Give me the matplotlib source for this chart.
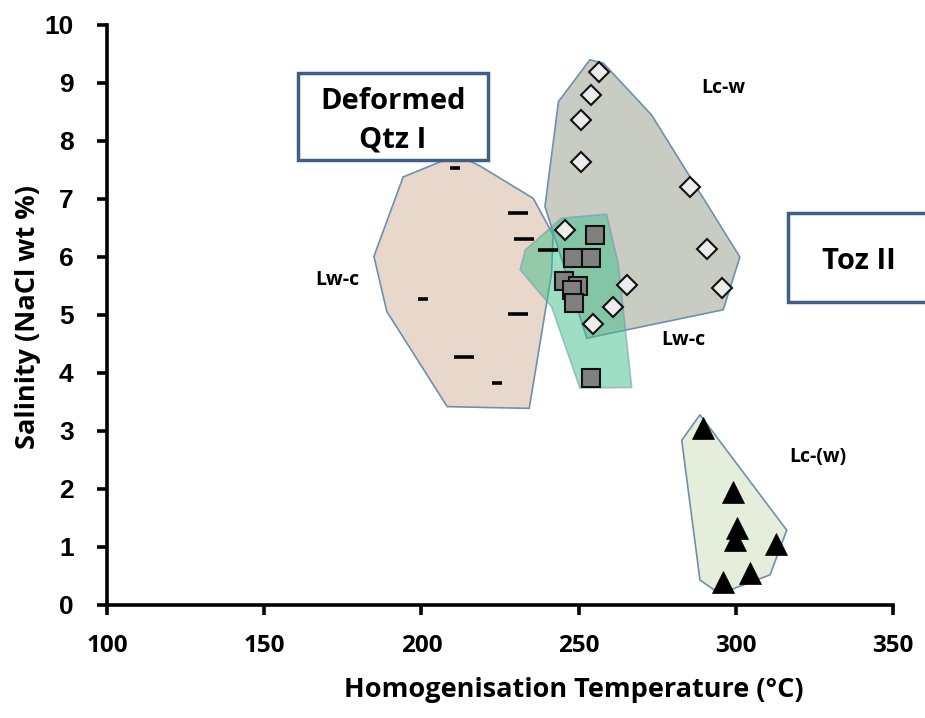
import matplotlib
matplotlib.use("Agg")
import matplotlib.pyplot as plt
from matplotlib.patches import Polygon, Rectangle

# ---- data ----
lcw_T = [256.6, 253.9, 250.7, 250.7, 285.4, 290.8, 295.5, 245.7, 265.5, 260.8, 254.5]
lcw_S = [9.19, 8.79, 8.36, 7.64, 7.20, 6.13, 5.46, 6.47, 5.52, 5.14, 4.84]

lwc_sq_T = [255.2, 248.3, 254.1, 245.4, 249.9, 247.8, 248.6, 253.9]
lwc_sq_S = [6.38, 5.99, 5.99, 5.59, 5.50, 5.43, 5.20, 3.91]

dash_T = [210.7, 230.6, 232.7, 240.2, 200.4, 230.6, 213.5, 224.0]
dash_S = [7.53, 6.75, 6.31, 6.12, 5.27, 5.01, 4.28, 3.82]
dash_long = [False, True, True, True, False, True, True, False]

tri_T = [289.7, 299.2, 300.5, 299.7, 312.8, 304.5, 295.8]
tri_S = [3.05, 1.95, 1.32, 1.12, 1.06, 0.55, 0.40]

pink_poly = [(211.4, 7.76), (218.6, 7.57), (235.6, 7.01), (241.9, 6.38), (241.4, 5.72),
             (234.3, 3.39), (208.2, 3.42), (189.0, 5.06), (184.9, 6.01), (194.2, 7.38)]
grey_poly = [(253.6, 9.40), (257.9, 9.34), (273.2, 8.45), (301.3, 6.00), (296.0, 5.09),
             (252.6, 4.60), (239.3, 6.87), (243.6, 8.68)]
green_poly = [(244.6, 6.67), (258.9, 6.74), (262.6, 5.89), (266.9, 3.75), (250.4, 3.74),
              (241.4, 5.14), (231.4, 5.78), (233.0, 6.12)]
tri_poly = [(288.6, 3.28), (282.8, 2.84), (288.6, 0.43), (293.9, 0.23), (298.2, 0.26),
            (310.9, 0.52), (316.2, 1.29)]

labels = [("Lc-w", 296, 8.91), ("Lw-c", 173.2, 5.6), ("Lw-c", 283.2, 4.57), ("Lc-(w)", 326.1, 2.55)]

xticks = [100, 150, 200, 250, 300, 350]
yticks = list(range(0, 11))

FONT = "Open Sans"

# ---- figure ----
fig = plt.figure(figsize=(9.25, 7.18), dpi=100)
ax = fig.add_axes([107/925, 113/718, (893-107)/925, (605-25)/718])
ax.set_xlim(100, 350)
ax.set_ylim(0, 10)

edge = "#6f8fb0"
ax.add_patch(Polygon(pink_poly, closed=True, facecolor="#e8d8cb", edgecolor=edge, lw=1.2, zorder=1))
ax.add_patch(Polygon(grey_poly, closed=True, facecolor="#c8ccc3", edgecolor=edge, lw=1.2, zorder=2))
ax.add_patch(Polygon(green_poly, closed=True, facecolor="#3fbf8a", alpha=0.5, edgecolor=edge, lw=1.2, zorder=3))
ax.add_patch(Polygon(tri_poly, closed=True, facecolor="#e4eedb", edgecolor=edge, lw=1.2, zorder=1))

for t, s, lg in zip(dash_T, dash_S, dash_long):
    ax.plot([t], [s], marker="_", color="black", markersize=14 if lg else 7, mew=2.6, ls="none", zorder=5)

ax.plot(lwc_sq_T, lwc_sq_S, marker="s", ls="none", markersize=13.5, markerfacecolor="#808080",
        markeredgecolor="#111111", mew=1.5, zorder=6)
ax.plot(lcw_T, lcw_S, marker="D", ls="none", markersize=10, markerfacecolor="#ececec",
        markeredgecolor="#111111", mew=1.5, zorder=7)
ax.plot(tri_T, tri_S, marker="^", ls="none", markersize=16, markerfacecolor="black",
        markeredgecolor="black", mew=0.5, zorder=7)

for txt, x, y in labels:
    ax.text(x, y, txt, fontfamily=FONT, fontweight="bold", fontsize=14, ha="center", va="center", zorder=8)

# spines / ticks
for side in ("top", "right"):
    ax.spines[side].set_visible(False)
for side in ("left", "bottom"):
    ax.spines[side].set_linewidth(2.6)
ax.set_xticks(xticks, labels=[str(v) for v in xticks], fontfamily=FONT, fontweight="bold", fontsize=17.5)
ax.set_yticks(yticks, labels=[str(v) for v in yticks], fontfamily="Liberation Sans", fontweight="bold", fontsize=19)
ax.tick_params(axis="both", direction="out", length=7, width=2.6)
ax.tick_params(axis="x", pad=14)
ax.tick_params(axis="y", pad=17)

ax.set_xlabel("Homogenisation Temperature (°C)", fontfamily=FONT, fontweight="bold", fontsize=19.5)
ax.xaxis.set_label_coords((574 - 107) / (893 - 107), -(690 - 605) / (605 - 25))
ax.xaxis.label.set_va("center")
ax.set_ylabel("Salinity (NaCl wt %)", fontfamily=FONT, fontweight="bold", fontsize=19.5)
ax.yaxis.set_label_coords(-(107 - 28) / (893 - 107), (605 - 317) / (605 - 25))
ax.yaxis.label.set_va("center")

# boxes (figure pixel coordinates)
def fig_box(x0, y0, x1, y1):
    r = Rectangle((x0/925, 1 - y1/718), (x1-x0)/925, (y1-y0)/718, transform=fig.transFigure,
                  facecolor="white", edgecolor="#3f5f86", lw=2.5, zorder=10, clip_on=False)
    fig.add_artist(r)

fig_box(298, 73, 488, 160)
fig.text(393/925, 1 - 121/718, "Deformed\nQtz I", fontfamily=FONT, fontweight="bold", fontsize=21,
         ha="center", va="center", linespacing=1.45, zorder=11)
fig_box(788, 213, 940, 302)
fig.text(859/925, 1 - 261/718, "Toz II", fontfamily=FONT, fontweight="bold", fontsize=21,
         ha="center", va="center", zorder=11)

fig.savefig("out.png", dpi=100)
